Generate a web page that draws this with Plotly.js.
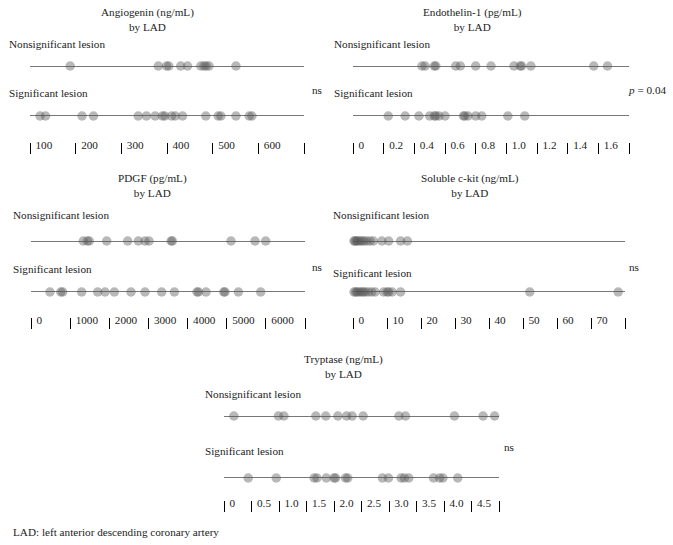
<!DOCTYPE html>
<html><head><meta charset="utf-8">
<script src="https://cdn.plot.ly/plotly-3.0.1.min.js"></script>
<style>html,body{margin:0;padding:0;background:#fff}</style>
</head><body><div id="chart" style="width:673px;height:545px"></div>
<script>
// ---------- data ----------
const rowNames = ['Nonsignificant lesion', 'Significant lesion'];

const angioTicks = [100, 200, 300, 400, 500, 600, 700];
const angioTickText = ['100', '200', '300', '400', '500', '600', ''];
const angioNonsig = [188, 381, 399, 404, 430, 445, 474, 481, 486, 492, 551];
const angioSig = [122, 134, 214, 239, 337, 355, 374, 390, 395, 410, 418, 434, 485, 512, 518, 551, 580, 586];

const endoTicks = [0, 0.2, 0.4, 0.6, 0.8, 1.0, 1.2, 1.4, 1.6, 1.8];
const endoTickText = ['0', '0.2', '0.4', '0.6', '0.8', '1.0', '1.2', '1.4', '1.6', ''];
const endoNonsig = [0.45, 0.47, 0.53, 0.54, 0.67, 0.70, 0.80, 0.90, 1.05, 1.09, 1.10, 1.16, 1.57, 1.66];
const endoSig = [0.23, 0.34, 0.43, 0.50, 0.53, 0.54, 0.56, 0.60, 0.72, 0.73, 0.75, 0.80, 0.84, 1.01, 1.12];

const pdgfTicks = [0, 1000, 2000, 3000, 4000, 5000, 6000, 7000];
const pdgfTickText = ['0', '1000', '2000', '3000', '4000', '5000', '6000', ''];
const pdgfNonsig = [1337, 1440, 1490, 1934, 2470, 2742, 2913, 3015, 3580, 3610, 5110, 5723, 5996];
const pdgfSig = [485, 760, 810, 1295, 1704, 1891, 2129, 2555, 2913, 3339, 3662, 4240, 4280, 4471, 4925, 4955, 5297, 5868];

const ckitTicks = [0, 10, 20, 30, 40, 50, 60, 70, 80];
const ckitTickText = ['0', '10', '20', '30', '40', '50', '60', '70', ''];
const ckitNonsig = [0.3, 0.6, 1.0, 1.4, 2.0, 2.6, 3.2, 4.0, 5.0, 6.0, 8.5, 10.5, 14, 16];
const ckitSig = [0.3, 0.8, 1.2, 1.8, 2.5, 3.0, 3.6, 4.5, 5.5, 6.5, 9.0, 10.0, 10.5, 11.5, 14, 52, 78];

const tryTicks = [0, 0.5, 1.0, 1.5, 2.0, 2.5, 3.0, 3.5, 4.0, 4.5, 5.0];
const tryTickText = ['0', '0.5', '1.0', '1.5', '2.0', '2.5', '3.0', '3.5', '4.0', '4.5', ''];
const tryNonsig = [0.18, 0.99, 1.09, 1.67, 1.85, 2.07, 2.23, 2.33, 2.53, 3.18, 3.30, 4.19, 4.71, 4.92];
const trySig = [0.44, 0.95, 1.64, 1.69, 1.86, 2.0, 2.03, 2.21, 2.25, 2.88, 2.99, 3.22, 3.28, 3.36, 3.81, 3.92, 3.98, 4.25];

// ---------- layout geometry (pixels) ----------
const W = 673, H = 545;
const panels = [
  {title: 'Angiogenin (ng/mL)', ticks: angioTicks, text: angioTickText, ns: angioNonsig, sg: angioSig,
   x0: 30, x1: 304, yNs: 66, ySg: 116, tickTop: 142, cx: 147, ty: 4, lx: 7, lyNs: 44, lySg: 93,
   stat: 'ns', sx: 310, sy: 90, sAnchor: 'left'},
  {title: 'Endothelin-1 (pg/mL)', ticks: endoTicks, text: endoTickText, ns: endoNonsig, sg: endoSig,
   x0: 353, x1: 629, yNs: 66, ySg: 116, tickTop: 142, cx: 473, ty: 4, lx: 332, lyNs: 44, lySg: 93,
   stat: '<i>p</i> = 0.04', sx: 668, sy: 90, sAnchor: 'right'},
  {title: 'PDGF (pg/mL)', ticks: pdgfTicks, text: pdgfTickText, ns: pdgfNonsig, sg: pdgfSig,
   x0: 31, x1: 305, yNs: 241, ySg: 292, tickTop: 317, cx: 152, ty: 170, lx: 11, lyNs: 215, lySg: 269,
   stat: 'ns', sx: 310, sy: 267, sAnchor: 'left'},
  {title: 'Soluble c-kit (ng/mL)', ticks: ckitTicks, text: ckitTickText, ns: ckitNonsig, sg: ckitSig,
   x0: 353, x1: 625, yNs: 241, ySg: 292, tickTop: 317, cx: 470, ty: 170, lx: 331, lyNs: 215, lySg: 273,
   stat: 'ns', sx: 627, sy: 267, sAnchor: 'left'},
  {title: 'Tryptase (ng/mL)', ticks: tryTicks, text: tryTickText, ns: tryNonsig, sg: trySig,
   x0: 224, x1: 499, yNs: 416, ySg: 478, tickTop: 500, cx: 343, ty: 351, lx: 203, lyNs: 394, lySg: 451,
   stat: 'ns', sx: 502, sy: 447, sAnchor: 'left'}
];

const FONT = 'Liberation Serif, DejaVu Serif, serif';
const fs = 11.2;
const dotColor = 'rgba(85,85,85,0.42)';
const px = v => v / W;
const py = v => 1 - v / H;

const traces = [];
const layout = {
  width: W, height: H, margin: {l: 0, r: 0, t: 0, b: 0},
  paper_bgcolor: '#fff', plot_bgcolor: 'rgba(0,0,0,0)',
  showlegend: false, hovermode: false,
  font: {family: FONT, size: fs, color: '#222'},
  annotations: []
};

panels.forEach((p, i) => {
  const n = i + 1;
  const xa = 'x' + n, ya = 'y' + n;
  const xk = 'xaxis' + n, yk = 'yaxis' + n;
  const lo = p.ticks[0], hi = p.ticks[p.ticks.length - 1];
  [1, 0].forEach(r => {
    traces.push({type: 'scatter', mode: 'lines', x: [lo, hi], y: [r, r], xaxis: xa, yaxis: ya,
      line: {color: '#4a4a4a', width: 1.3}, hoverinfo: 'skip', cliponaxis: false});
  });
  [[p.ns, 1], [p.sg, 0]].forEach(([vals, r]) => {
    traces.push({type: 'scatter', mode: 'markers', x: vals, y: vals.map(() => r), xaxis: xa, yaxis: ya,
      marker: {size: 9.5, color: dotColor, line: {width: 0}}, cliponaxis: false, hoverinfo: 'skip'});
  });
  layout[xk] = {
    domain: [px(p.x0), px(p.x1)], range: [lo, hi], anchor: 'free', position: py(p.tickTop),
    tickmode: 'array', tickvals: p.ticks, ticktext: p.text,
    ticks: 'outside', ticklen: 11, tickwidth: 1, tickcolor: '#000',
    ticklabelposition: 'outside right', ticklabelstandoff: -7, ticklabelshift: 5,
    showline: false, showgrid: false, zeroline: false,
    tickfont: {family: FONT, size: fs, color: '#222'}, fixedrange: true
  };
  layout[yk] = {
    domain: [py(p.ySg), py(p.yNs)], range: [0, 1], visible: false, fixedrange: true
  };
  layout.annotations.push(
    {xref: 'paper', yref: 'paper', x: px(p.cx), y: py(p.ty), xanchor: 'center', yanchor: 'top',
     text: p.title + '<br>by LAD', showarrow: false, font: {family: FONT, size: fs, color: '#222'}},
    {xref: 'paper', yref: 'paper', x: px(p.lx), y: py(p.lyNs), xanchor: 'left', yanchor: 'middle',
     text: rowNames[0], showarrow: false, font: {family: FONT, size: fs, color: '#222'}},
    {xref: 'paper', yref: 'paper', x: px(p.lx), y: py(p.lySg), xanchor: 'left', yanchor: 'middle',
     text: rowNames[1], showarrow: false, font: {family: FONT, size: fs, color: '#222'}},
    {xref: 'paper', yref: 'paper', x: px(p.sx), y: py(p.sy), xanchor: p.sAnchor, yanchor: 'middle',
     text: p.stat, showarrow: false, font: {family: FONT, size: fs, color: '#222'}}
  );
});

layout.annotations.push({xref: 'paper', yref: 'paper', x: px(11), y: py(532), xanchor: 'left', yanchor: 'middle',
  text: 'LAD: left anterior descending coronary artery', showarrow: false,
  font: {family: FONT, size: fs, color: '#222'}});

Plotly.newPlot('chart', traces, layout, {staticPlot: true, displayModeBar: false});
</script>
</body></html>
